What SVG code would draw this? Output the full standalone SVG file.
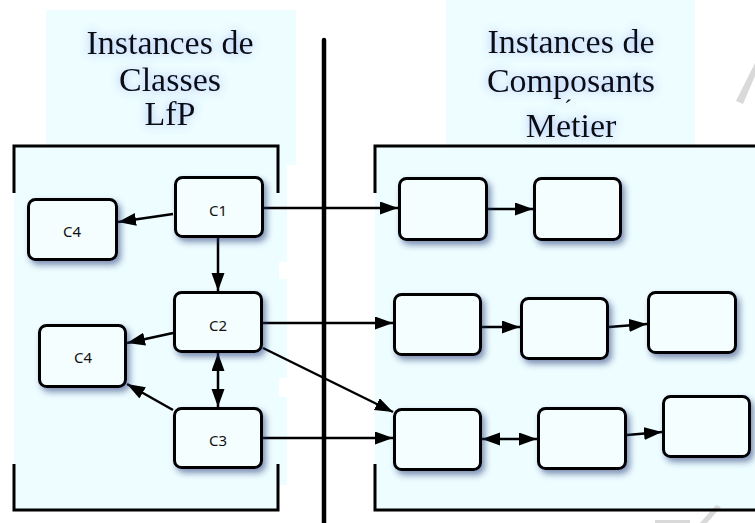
<svg xmlns="http://www.w3.org/2000/svg" width="755" height="523" viewBox="0 0 755 523">
  <style>
    .bg { fill: #eefdff; }
    .frame { fill: none; stroke: #000; stroke-width: 3; }
    .node rect { fill: #f4feff; stroke: #000; stroke-width: 3; filter: url(#shadow); }
    .node text { font-family: "Noto Sans", "DejaVu Sans", sans-serif; font-size: 15px; fill: #111; text-anchor: middle; }
    .title { font-family: "Liberation Serif", "Times New Roman", serif; font-size: 34px; fill: #0d0d0d; text-anchor: middle; filter: url(#glow); }
    .edge { fill: none; stroke: #000; stroke-width: 2.5; marker-end: url(#arrow); }
    .both { marker-start: url(#arrow); }
    .mark { fill: #d9d9d9; }
  </style>
  <defs>
    <filter id="shadow" x="-20%" y="-20%" width="150%" height="160%">
      <feDropShadow dx="3" dy="4" stdDeviation="3" flood-color="#1f3475" flood-opacity="0.55"/>
    </filter>
    <filter id="glow" x="-20%" y="-40%" width="140%" height="180%">
      <feGaussianBlur in="SourceAlpha" stdDeviation="5" result="b"/>
      <feFlood flood-color="#4f72e8" flood-opacity="0.5"/>
      <feComposite in2="b" operator="in" result="g"/>
      <feMerge>
        <feMergeNode in="g"/>
        <feMergeNode in="SourceGraphic"/>
      </feMerge>
    </filter>
    <marker id="arrow" markerUnits="userSpaceOnUse" markerWidth="19" markerHeight="14" refX="18" refY="6.5" orient="auto-start-reverse">
      <path d="M0,0 L18,6.5 L0,13 z" fill="#000"/>
    </marker>
  </defs>

  <rect width="755" height="523" fill="#fff"/>

  <!-- shaded zones -->
  <g id="zones">
    <rect class="bg" x="46" y="10" width="250" height="155"/>
    <rect class="bg" x="14" y="146" width="273" height="339"/>
    <rect class="bg" x="14" y="485" width="264" height="25"/>
    <rect fill="#fff" x="279" y="262" width="8" height="17"/>
    <rect fill="#fff" x="279" y="378" width="8" height="19"/>
    <rect fill="#fff" x="287" y="165" width="9" height="5"/>
    <rect class="bg" x="446" y="0" width="249" height="146"/>
    <rect class="bg" x="375" y="146" width="380" height="364"/>
  </g>

  <!-- faint marks at the right edge -->
  <g id="marks">
    <polygon class="mark" points="736,101 755,63 755,76 743,104"/>
    <polygon class="mark" points="700,523 716,505 721,507 707,523"/>
    <polygon class="mark" points="655,520 690,520 690,523 655,523"/>
  </g>

  <!-- titles -->
  <g id="title-left">
    <text class="title" x="170" y="54">Instances de</text>
    <text class="title" x="170" y="91">Classes</text>
    <text class="title" x="170" y="125">LfP</text>
  </g>
  <g id="title-right">
    <text class="title" x="571" y="53">Instances de</text>
    <text class="title" x="571" y="92">Composants<tspan x="568" y="116" style="font-size:24px">´</tspan></text>
    <text class="title" x="571" y="137">Metier</text>
  </g>

  <!-- frames -->
  <g id="frames">
    <path class="frame" d="M14,193 V146 H278 V193 M14,464 V510 H278 V464"/>
    <path class="frame" d="M375,193 V146 H757 M375,464 V510 H757"/>
    <line x1="324" y1="40" x2="324" y2="523" stroke="#000" stroke-width="4.5" stroke-linecap="round"/>
  </g>

  <!-- connectors -->
  <g id="connectors">
    <path class="edge" d="M173,214 L118,222"/>
    <path class="edge" d="M218,238 L218,291"/>
    <path class="edge" d="M264,208 L398,208"/>
    <path class="edge" d="M488,209 L533,209"/>
    <path class="edge" d="M173,333 L127,343"/>
    <path class="edge both" d="M218,353 L218,407"/>
    <path class="edge" d="M173,410 L127,384"/>
    <path class="edge" d="M263,323 L393,323"/>
    <path class="edge" d="M263,348 L393,412"/>
    <path class="edge" d="M263,438 L393,438"/>
    <path class="edge" d="M482,327 L520,327"/>
    <path class="edge" d="M609,327 L647,324"/>
    <path class="edge both" d="M482,439 L537,439"/>
    <path class="edge" d="M627,435 L662,432"/>
  </g>

  <!-- left-side class instances -->
  <g id="c1" class="node"><rect x="175.5" y="177.5" width="87" height="59" rx="7"/><text x="218" y="216">C1</text></g>
  <g id="c4a" class="node"><rect x="28.5" y="199.5" width="88" height="60" rx="7"/><text x="72" y="237">C4</text></g>
  <g id="c2" class="node"><rect x="174.5" y="292.5" width="87" height="59" rx="7"/><text x="218" y="331">C2</text></g>
  <g id="c4b" class="node"><rect x="39.5" y="325.5" width="86" height="61" rx="7"/><text x="83" y="363">C4</text></g>
  <g id="c3" class="node"><rect x="174.5" y="408.5" width="87" height="59" rx="7"/><text x="218" y="446">C3</text></g>

  <!-- right-side component instances -->
  <g id="r1a" class="node"><rect x="399.5" y="178.5" width="87" height="61" rx="7"/></g>
  <g id="r1b" class="node"><rect x="534.5" y="178.5" width="86" height="61" rx="7"/></g>
  <g id="r2a" class="node"><rect x="394.5" y="294.5" width="86" height="60" rx="7"/></g>
  <g id="r2b" class="node"><rect x="521.5" y="298.5" width="86" height="60" rx="7"/></g>
  <g id="r2c" class="node"><rect x="648.5" y="292.5" width="87" height="60" rx="7"/></g>
  <g id="r3a" class="node"><rect x="394.5" y="409.5" width="86" height="60" rx="7"/></g>
  <g id="r3b" class="node"><rect x="538.5" y="408.5" width="87" height="60" rx="7"/></g>
  <g id="r3c" class="node"><rect x="663.5" y="396.5" width="86" height="60" rx="7"/></g>
</svg>
